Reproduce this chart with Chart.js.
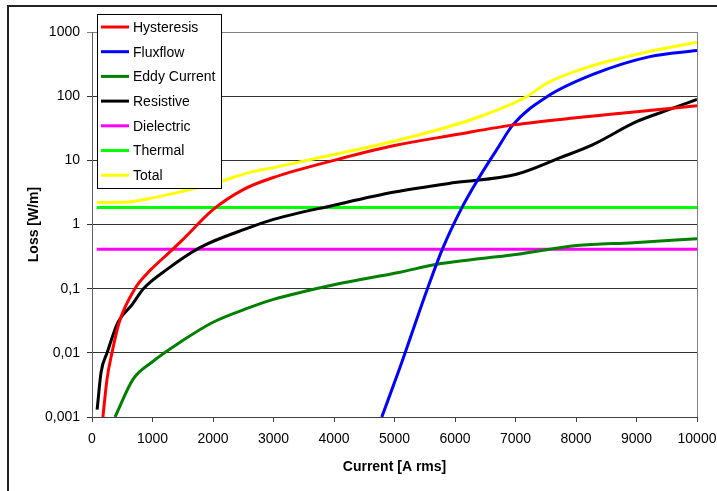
<!DOCTYPE html>
<html>
<head>
<meta charset="utf-8">
<script src="https://cdn.jsdelivr.net/npm/chart.js@4.4.1/dist/chart.umd.min.js"></script>
<style>
  html, body { margin: 0; padding: 0; background: #fff; }
  canvas { display: block; }
</style>
</head>
<body>
<canvas id="lossChart" width="717" height="491"></canvas>
<script>
// values (current in A rms, loss in W/m)
const hystCurrent = [180, 250, 330, 450, 710, 930, 1000, 1320, 1500, 2000, 2500, 3000, 4000, 5000, 6000, 7000, 8000, 9000, 10000];
const hystLoss = [0.001, 0.004, 0.01, 0.03, 0.1, 0.18, 0.21, 0.4, 0.58, 1.7, 3.5, 5.4, 10, 17, 25, 36, 46, 57, 71];

const fluxCurrent = [4790, 5090, 5540, 5790, 6110, 6360, 6690, 6960, 7520, 8280, 9220, 10000];
const fluxLoss = [0.001, 0.0059, 0.097, 0.41, 1.8, 4.7, 14.7, 36, 98, 218, 413, 515];

const eddyCurrent = [380, 680, 1010, 1450, 2000, 2610, 3000, 4000, 5090, 5700, 7000, 8010, 8950, 10000];
const eddyLoss = [0.001, 0.0039, 0.0074, 0.0145, 0.03, 0.051, 0.068, 0.115, 0.18, 0.24, 0.34, 0.47, 0.52, 0.6];

const resCurrent = [85, 150, 250, 430, 660, 850, 1240, 1790, 2610, 3000, 4000, 5000, 6000, 7000, 7740, 8280, 9000, 9500, 10000];
const resLoss = [0.0013, 0.005, 0.01, 0.03, 0.056, 0.1, 0.2, 0.44, 0.9, 1.2, 2.0, 3.2, 4.5, 6, 11, 17.6, 40, 60, 89];

const dielCurrent = [80, 10000];
const dielLoss = [0.41, 0.41];

const thermCurrent = [80, 10000];
const thermLoss = [1.84, 1.84];

const totalCurrent = [80, 600, 1000, 1500, 2000, 2610, 3000, 4000, 5000, 5920, 6460, 7190, 7520, 8230, 9220, 10000];
const totalLoss = [2.2, 2.25, 2.6, 3.3, 4.3, 6.5, 7.7, 12.3, 20, 34, 50, 99, 160, 290, 500, 690];

const yTicks = [0.001, 0.01, 0.1, 1, 10, 100, 1000];

const pts = (xs, ys) => xs.map((x, i) => ({ x, y: ys[i] }));

const series = [
  { label: 'Hysteresis', data: pts(hystCurrent, hystLoss), color: '#ff0000' },
  { label: 'Fluxflow', data: pts(fluxCurrent, fluxLoss), color: '#0000ff' },
  { label: 'Eddy Current', data: pts(eddyCurrent, eddyLoss), color: '#008000' },
  { label: 'Resistive', data: pts(resCurrent, resLoss), color: '#000000' },
  { label: 'Dielectric', data: pts(dielCurrent, dielLoss), color: '#ff00ff' },
  { label: 'Thermal', data: pts(thermCurrent, thermLoss), color: '#00ff00' },
  { label: 'Total', data: pts(totalCurrent, totalLoss), color: '#ffff00' }
];

const FONT = '"Liberation Sans", Arial, sans-serif';

// legend box sits inside the plot, top-left, like the Excel original
const boxLegend = {
  id: 'boxLegend',
  afterDraw(chart) {
    const ctx = chart.ctx;
    const x0 = 97, y0 = 14, w = 124, h = 174;
    ctx.save();
    ctx.fillStyle = '#fff';
    ctx.fillRect(x0, y0, w, h);
    ctx.strokeStyle = '#000';
    ctx.lineWidth = 1;
    ctx.strokeRect(x0 + 0.5, y0 + 0.5, w, h);
    ctx.font = '14px ' + FONT;
    ctx.textBaseline = 'middle';
    chart.data.datasets.forEach((ds, i) => {
      const y = 27 + i * 24.7;
      ctx.strokeStyle = ds.borderColor;
      ctx.lineWidth = 3;
      ctx.beginPath();
      ctx.moveTo(101, y);
      ctx.lineTo(129, y);
      ctx.stroke();
      ctx.fillStyle = '#000';
      ctx.fillText(ds.label, 133, y + 1);
    });
    ctx.restore();
  }
};

// outer frame + grey right edge of the plot
const frame = {
  id: 'frame',
  afterDraw(chart) {
    const ctx = chart.ctx;
    const a = chart.chartArea;
    ctx.save();
    ctx.strokeStyle = '#808080';
    ctx.lineWidth = 1;
    ctx.beginPath();
    ctx.moveTo(a.right + 0.5, a.top);
    ctx.lineTo(a.right + 0.5, a.bottom);
    ctx.stroke();
    ctx.strokeStyle = '#222';
    ctx.lineWidth = 2;
    ctx.beginPath();
    ctx.moveTo(8, 500);
    ctx.lineTo(8, 6);
    ctx.lineTo(720, 6);
    ctx.stroke();
    ctx.restore();
  }
};

new Chart(document.getElementById('lossChart'), {
  type: 'line',
  data: {
    datasets: series.map(s => ({
      label: s.label,
      data: s.data,
      borderColor: s.color,
      backgroundColor: s.color,
      borderWidth: 3,
      pointRadius: 0,
      cubicInterpolationMode: 'monotone',
      fill: false
    }))
  },
  options: {
    responsive: false,
    animation: false,
    layout: { padding: { top: 32, right: 20, left: 0, bottom: 0 } },
    plugins: {
      legend: { display: false },
      tooltip: { enabled: false }
    },
    scales: {
      x: {
        type: 'linear',
        min: 0,
        max: 10000,
        ticks: {
          stepSize: 1000,
          color: '#000',
          font: { family: FONT, size: 14 },
          padding: 9,
          maxRotation: 0,
          callback: v => String(v)
        },
        grid: { drawOnChartArea: false, drawTicks: true, tickLength: 5, color: '#404040' },
        border: { color: '#404040', width: 1 },
        title: {
          display: true,
          text: 'Current [A rms]',
          color: '#000',
          font: { family: FONT, size: 14, weight: 'bold' },
          padding: { top: 8, bottom: 15 }
        },
        afterFit: s => { s.height = 74; s.paddingRight = 0; s.paddingLeft = 0; }
      },
      y: {
        type: 'logarithmic',
        min: 0.001,
        max: 1000,
        afterBuildTicks: s => { s.ticks = yTicks.map(v => ({ value: v })); },
        ticks: {
          color: '#000',
          font: { family: FONT, size: 14 },
          padding: 7,
          callback: v => String(v).replace('.', ',')
        },
        grid: {
          tickLength: 5,
          color: ctx => (ctx.tick && ctx.tick.value === 1000 ? '#808080' : '#333'),
          lineWidth: 1
        },
        border: { color: '#606060', width: 1 },
        title: {
          display: true,
          text: 'Loss [W/m]',
          color: '#000',
          font: { family: FONT, size: 14, weight: 'bold' },
          padding: { top: 26, bottom: 0 }
        },
        afterFit: s => { s.width = 92; }
      }
    }
  },
  plugins: [frame, boxLegend]
});
</script>
</body>
</html>
